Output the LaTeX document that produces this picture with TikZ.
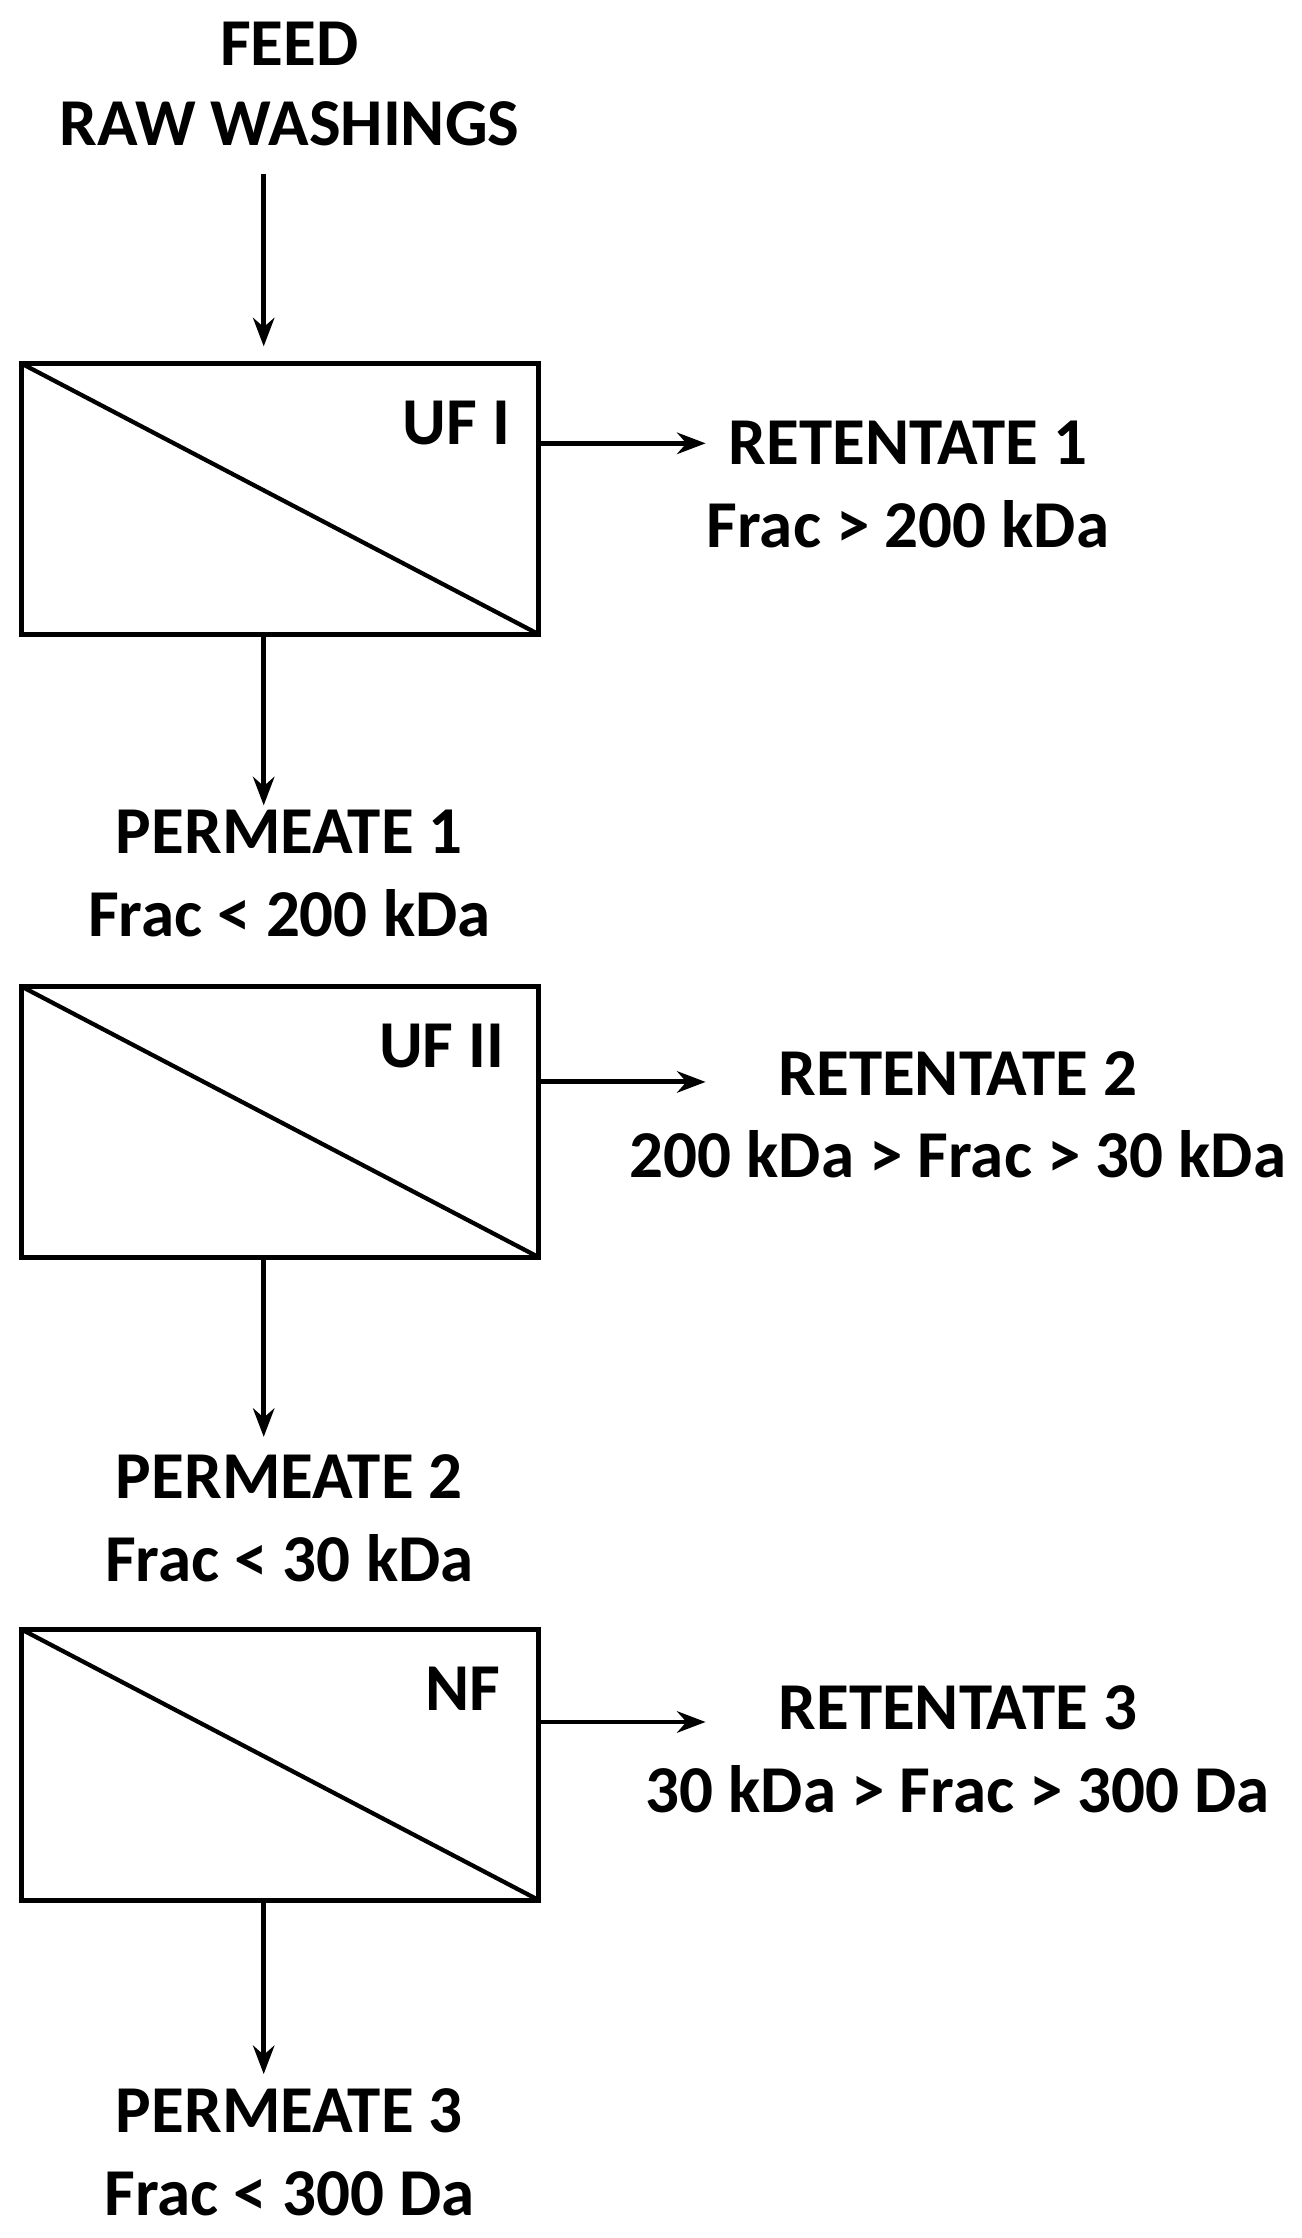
\documentclass[tikz,border=0pt]{standalone}
\usepackage{fontspec}
\setmainfont{Carlito}
\usetikzlibrary{arrows.meta}
\begin{document}
\begin{tikzpicture}[x=1pt,y=-1pt,
  lbl/.style={font=\fontsize{47}{54}\selectfont\bfseries,align=center,inner sep=0pt},
  unit/.style={draw,line width=3.5pt},
  arr/.style={line width=3.5pt,-{Stealth[length=20pt,width=15pt]}}]
\useasboundingbox (0,0) rectangle (913,1570);
\node[lbl] (feed) at (203,59) {FEED\\[2pt]RAW WASHINGS};
\foreach \n/\t/\lab/\lx in {1/255/UF I/320,2/692/UF II/310,3/1143/NF/325}{
  \draw[unit] (15,\t) coordinate (tl\n) rectangle (378,\t+190) coordinate (br\n);
  \draw[line width=3pt] (tl\n) -- (br\n);
  \node[lbl] (lab\n) at (\lx,\t+42) {\lab};
}
\node[lbl] (r1) at (637,340) {RETENTATE 1\\[4pt]Frac > 200 kDa};
\node[lbl] (r2) at (672,782) {RETENTATE 2\\[4pt]200 kDa > Frac > 30 kDa};
\node[lbl] (r3) at (672,1227) {RETENTATE 3\\[4pt]30 kDa > Frac > 300 Da};
\node[lbl] (p1) at (203,613) {PERMEATE 1\\[4pt]Frac < 200 kDa};
\node[lbl] (p2) at (203,1065) {PERMEATE 2\\[4pt]Frac < 30 kDa};
\node[lbl] (p3) at (203,1510) {PERMEATE 3\\[4pt]Frac < 300 Da};
\coordinate (a0) at (185,122);
\draw[arr] (a0) -- (185,243);
\draw[arr] (185,445) -- (185,565);
\draw[arr] (185,882) -- (185,1008);
\draw[arr] (185,1333) -- (185,1455);
\draw[arr] (378,311) -- (495,311);
\draw[arr] (378,759) -- (495,759);
\draw[arr] (378,1208) -- (495,1208);
\end{tikzpicture}
\end{document}
